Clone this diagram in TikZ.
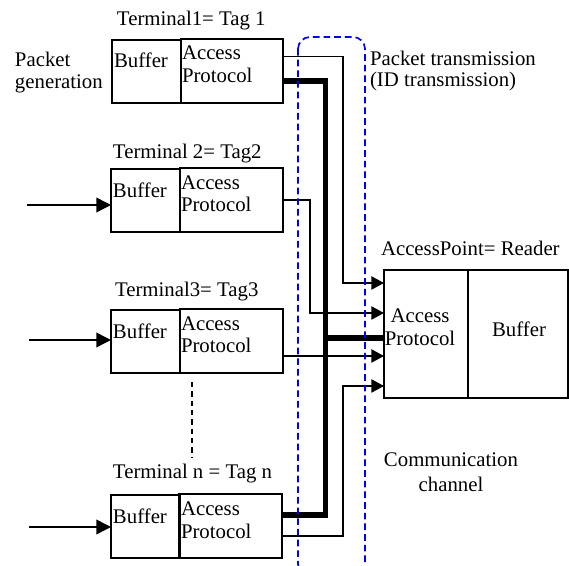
\documentclass[tikz,border=0pt]{standalone}
\usepackage{fontspec}
\setmainfont{Liberation Serif}
\usetikzlibrary{arrows.meta,calc}
\tikzset{
  boxs/.style={draw, line width=1.1pt, inner sep=0pt, outer sep=0pt, anchor=north west},
  txt/.style={inner sep=0pt, outer sep=0pt, font=\fontsize{15.6}{18}\selectfont},
  conn/.style={line width=1pt, -{Triangle[length=9.5pt,width=10pt]}},
  inarrow/.style={line width=1.1pt, -{Triangle[length=11pt,width=11pt]}},
  bus/.style={line width=4.2pt, line join=miter},
  chan/.style={blue, line width=1.3pt, dash pattern=on 5pt off 3pt, rounded corners=9pt},
  dots/.style={line width=1.1pt, dash pattern=on 4pt off 3pt}
}
\begin{document}
\begin{tikzpicture}[x=0.75pt,y=-0.75pt]
\path[use as bounding box] (0,0) rectangle (569,566);
\clip (0,0) rectangle (569,566);

% Terminal 1
\node[boxs, minimum width=69*0.75pt, minimum height=63*0.75pt] (b1) at (112,40) {};
\node[boxs, minimum width=102*0.75pt, minimum height=64*0.75pt] (a1) at (181,39) {};
\node[txt, anchor=base west] (b1t) at (114,68) {Buffer};
\node[txt, anchor=base west] (a1t1) at (182,60) {Access};
\node[txt, anchor=base west] (a1t2) at (182,83) {Protocol};
\node[txt, anchor=base west] (l1) at (117,26) {Terminal1= Tag 1};
\node[txt, anchor=base west] (pg1) at (15,67) {Packet};
\node[txt, anchor=base west] (pg2) at (15,89) {generation};

% Terminal 2
\node[boxs, minimum width=69*0.75pt, minimum height=63*0.75pt] (b2) at (111,169) {};
\node[boxs, minimum width=103*0.75pt, minimum height=64*0.75pt] (a2) at (180,168) {};
\node[txt, anchor=base west] (b2t) at (113,198) {Buffer};
\node[txt, anchor=base west] (a2t1) at (181,190) {Access};
\node[txt, anchor=base west] (a2t2) at (181,212) {Protocol};
\node[txt, anchor=base west] (l2) at (113,159) {Terminal 2= Tag2};
\coordinate (in2) at (27,205);

% Terminal 3
\node[boxs, minimum width=69*0.75pt, minimum height=63*0.75pt] (b3) at (111,310) {};
\node[boxs, minimum width=103*0.75pt, minimum height=64*0.75pt] (a3) at (180,309) {};
\node[txt, anchor=base west] (b3t) at (113,339) {Buffer};
\node[txt, anchor=base west] (a3t1) at (181,331) {Access};
\node[txt, anchor=base west] (a3t2) at (181,353) {Protocol};
\node[txt, anchor=base west] (l3) at (115,297) {Terminal3= Tag3};
\coordinate (in3) at (29,340);

% Terminal n
\node[boxs, minimum width=69*0.75pt, minimum height=63*0.75pt] (bn) at (111,495) {};
\node[boxs, minimum width=103*0.75pt, minimum height=64*0.75pt] (an) at (179,494) {};
\node[txt, anchor=base west] (bnt) at (113,524) {Buffer};
\node[txt, anchor=base west] (ant1) at (181,516) {Access};
\node[txt, anchor=base west] (ant2) at (181,539) {Protocol};
\node[txt, anchor=base west] (ln) at (113,479) {Terminal n = Tag n};
\coordinate (inn) at (29,527);

% Reader
\node[boxs, minimum width=84*0.75pt, minimum height=128*0.75pt] (r1) at (384,270) {};
\node[boxs, minimum width=100*0.75pt, minimum height=128*0.75pt] (r2) at (468,270) {};
\node[txt, anchor=base] (r1t1) at (420,323) {Access};
\node[txt, anchor=base] (r1t2) at (420,346) {Protocol};
\node[txt, anchor=base] (r2t) at (519,337) {Buffer};
\node[txt, anchor=base west] (lr) at (381,256) {AccessPoint= Reader};

% channel labels
\node[txt, anchor=base west] (pt1) at (370,66) {Packet transmission};
\node[txt, anchor=base west] (pt2) at (370,87) {(ID transmission)};
\node[txt, anchor=base] (cc1) at (451,467) {Communication};
\node[txt, anchor=base] (cc2) at (451,492) {channel};

% input arrows
\draw[inarrow] (in2) -- (in2 -| b2.west);
\draw[inarrow] (in3) -- (in3 -| b3.west);
\draw[inarrow] (inn) -- (inn -| bn.west);

% thin connectors
\draw[conn] ($(a1.north east)+(0,17.5)$) -| (343,283) -- ($(r1.north west)+(0,13)$);
\draw[conn] ($(a2.north east)+(0,32)$) -| (310,313) -- ($(r1.north west)+(0,43)$);
\draw[conn] ($(a3.north east)+(0,47)$) -- ($(r1.north west)+(0,86)$);
\draw[conn] ($(an.north east)+(0,42)$) -| (343,386) -- ($(r1.north west)+(0,116)$);

% thick bus
\draw[bus] ($(a1.north east)+(0,42)$) -| (325.5,515) -- ($(an.north east)+(0,21)$);
\coordinate (junc) at (325.5,338);
\draw[bus] (junc) -- (junc -| r1.west);

% dotted continuation
\coordinate (d1) at (192,382);
\coordinate (d2) at (192,457);
\draw[dots] (d1) -- (d2);

% communication channel
\draw[chan] (298,37) rectangle (365,576);
\end{tikzpicture}
\end{document}
